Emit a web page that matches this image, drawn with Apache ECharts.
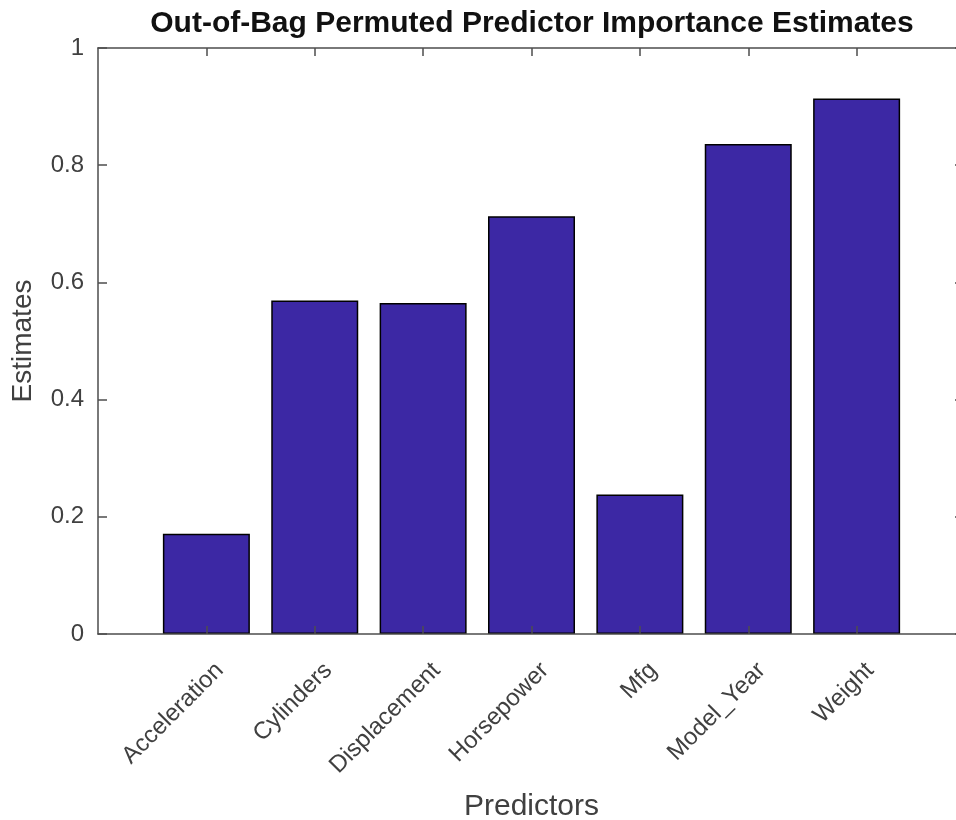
<!DOCTYPE html>
<html>
<head>
<meta charset="utf-8">
<script src="https://cdn.jsdelivr.net/npm/echarts@6/dist/echarts.min.js"></script>
<style>
  html, body { margin: 0; padding: 0; background: #fff; }
  #chart { width: 956px; height: 820px; }
</style>
</head>
<body>
<div id="chart"></div>
<script>
// predictor names and their out-of-bag importance estimates
var predictors = ['Acceleration', 'Cylinders', 'Displacement', 'Horsepower', 'Mfg', 'Model_Year', 'Weight'];
var estimates = [0.171, 0.569, 0.565, 0.713, 0.238, 0.836, 0.914];
var yTicks = [0, 0.2, 0.4, 0.6, 0.8, 1];

var chart = echarts.init(document.getElementById('chart'));
var axisGray = '#4d4d4d';
var textGray = '#404040';
var font = 'Liberation Sans';

var barData = predictors.map((name, i) => [i + 1, estimates[i]]);
var catTicks = predictors.map((name, i) => i + 1);

var lineStyle = { color: axisGray, width: 1.5 };

var option = {
  backgroundColor: '#fff',
  animation: false,
  title: {
    text: 'Out-of-Bag Permuted Predictor Importance Estimates',
    left: 527, top: 4, textAlign: 'center',
    textStyle: { fontFamily: font, fontSize: 30, fontWeight: 'bold', color: '#111' }
  },
  // axes box runs a little past the right edge of the picture
  grid: { left: 98, top: 48, width: 867, height: 586, outerBoundsMode: 'none' },
  xAxis: [{
    type: 'value', min: 0, max: 8, interval: 1, position: 'bottom', z: 5,
    name: 'Predictors', nameLocation: 'middle', nameGap: 158,
    nameTextStyle: { fontFamily: font, fontSize: 30, color: textGray },
    axisLine: { onZero: false, lineStyle: lineStyle },
    axisTick: { inside: true, length: 8, customValues: catTicks, lineStyle: lineStyle },
    splitLine: { show: false },
    axisLabel: {
      rotate: 45, margin: 8, fontFamily: font, fontSize: 24, color: textGray,
      verticalAlign: 'top', padding: [15, 8, 0, 0], customValues: catTicks,
      formatter: v => predictors[Math.round(v) - 1] || ''
    }
  }, {
    type: 'value', min: 0, max: 8, interval: 1, position: 'top', z: 5,
    axisLine: { onZero: false, lineStyle: lineStyle },
    axisTick: { inside: true, length: 8, customValues: catTicks, lineStyle: lineStyle },
    splitLine: { show: false },
    axisLabel: { show: false }
  }],
  yAxis: [{
    type: 'value', min: 0, max: 1, interval: 0.2, position: 'left', z: 5,
    name: 'Estimates', nameLocation: 'middle', nameGap: 61,
    nameTextStyle: { fontFamily: font, fontSize: 28, color: textGray },
    axisLine: { show: true, onZero: false, lineStyle: lineStyle },
    axisTick: { show: true, inside: true, length: 9, lineStyle: lineStyle },
    splitLine: { show: false },
    axisLabel: {
      margin: 14, fontFamily: font, fontSize: 24, color: textGray,
      formatter: v => yTicks.indexOf(+v.toFixed(1)) >= 0 ? String(+v.toFixed(1)) : ''
    }
  }, {
    type: 'value', min: 0, max: 1, interval: 0.2, position: 'right', z: 5,
    axisLine: { show: true, onZero: false, lineStyle: lineStyle },
    axisTick: { show: true, inside: true, length: 10, lineStyle: lineStyle },
    splitLine: { show: false },
    axisLabel: { show: false }
  }],
  series: [{
    type: 'bar',
    data: barData,
    barWidth: 87,
    itemStyle: { color: '#3c28a4', borderColor: '#000', borderWidth: 1.5 }
  }]
};
chart.setOption(option);
</script>
</body>
</html>
